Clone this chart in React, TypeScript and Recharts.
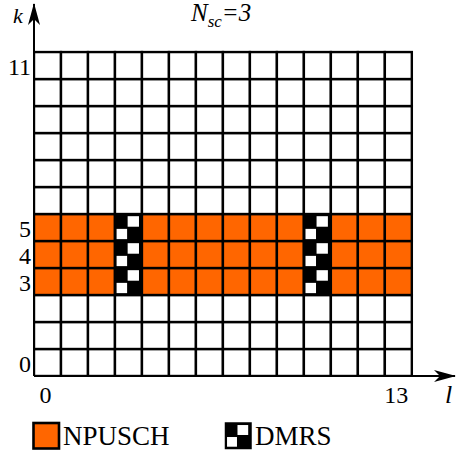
import React from 'react';
import { ComposedChart, XAxis, YAxis, Scatter } from 'recharts';

// grid: l = SC-FDMA symbol, k = subcarrier
const slots = [0, 1, 2, 3, 4, 5, 6, 7, 8, 9, 10, 11, 12, 13];
const subcarriers = [0, 1, 2, 3, 4, 5, 6, 7, 8, 9, 10, 11];
const npuschRows = [3, 4, 5];
const dmrsSlots = [3, 10];
const xTickLabels = [0, 13];
const yTickLabels = [0, 3, 4, 5, 11];
const legendItems = [
  { name: 'NPUSCH', kind: 'npusch' },
  { name: 'DMRS', kind: 'dmrs' },
];

const W = 456;
const H = 455;
const ORANGE = '#FF6600';
const FONT = '"Liberation Serif", "Times New Roman", serif';
const LINE_W = 2.4;

// plot runs a bit past the grid so the axis arrows stick out
const MARGIN = { top: 4, right: 1, left: 0, bottom: 0 };
const Y_AXIS_W = 34;
const X_MAX = 15.6;
const Y_MAX = 13.78;
// pixels per unit of the x scale = one cell
const CELL_PX = (W - MARGIN.right - Y_AXIS_W) / X_MAX;

type Kind = 'empty' | 'npusch' | 'dmrs';

const cells: { x: number; y: number; kind: Kind }[] = [];
subcarriers.forEach((k) => {
  slots.forEach((l) => {
    let kind: Kind = 'empty';
    if (npuschRows.includes(k)) kind = dmrsSlots.includes(l) ? 'dmrs' : 'npusch';
    cells.push({ x: l + 0.5, y: k + 0.5, kind });
  });
});

const DmrsGlyph = ({ x, y, width, height, strokeWidth = LINE_W }: any) => (
  <g>
    <rect x={x} y={y} width={width} height={height} fill="#000" stroke="#000" strokeWidth={strokeWidth} />
    <rect x={x + 0.47 * width} y={y + 0.08 * height} width={0.42 * width} height={0.39 * height} fill="#fff" />
    <rect x={x + 0.06 * width} y={y + 0.55 * height} width={0.39 * width} height={0.38 * height} fill="#fff" />
  </g>
);

const CellShape = (props: any) => {
  const { cx, cy, payload } = props;
  const s = CELL_PX;
  const x = cx - s / 2;
  const y = cy - s / 2;
  if (payload.kind === 'dmrs') return <DmrsGlyph x={x} y={y} width={s} height={s} />;
  return (
    <rect
      x={x}
      y={y}
      width={s}
      height={s}
      fill={payload.kind === 'npusch' ? ORANGE : '#fff'}
      stroke="#000"
      strokeWidth={LINE_W}
    />
  );
};

export default function App() {
  return (
    <div style={{ position: 'absolute', left: 0, top: 0, width: W, height: H, fontFamily: FONT }}>
      <svg width={0} height={0} style={{ position: 'absolute' }}>
        <defs>
          <marker
            id="arrow"
            viewBox="0 0 22 12"
            markerWidth={22}
            markerHeight={12}
            refX={21}
            refY={6}
            orient="auto-start-reverse"
            markerUnits="userSpaceOnUse"
          >
            <path d="M0,0 L22,6 L0,12 L6,6 Z" fill="#000" />
          </marker>
        </defs>
      </svg>
      <ComposedChart width={W} height={H} margin={MARGIN}>
        <XAxis
          type="number"
          dataKey="x"
          domain={[0, X_MAX]}
          allowDataOverflow
          ticks={xTickLabels.map((l) => l + 0.5)}
          interval={0}
          tickFormatter={(v: number) => String(Math.floor(v))}
          height={79}
          axisLine={{ stroke: '#000', strokeWidth: 2, markerEnd: 'url(#arrow)' }}
          tickLine={false}
          tickSize={0}
          tickMargin={10}
          tick={{ fill: '#000', fontSize: 24, fontFamily: FONT, dx: -2 }}
        />
        <YAxis
          type="number"
          dataKey="y"
          domain={[0, Y_MAX]}
          allowDataOverflow
          ticks={yTickLabels.map((k) => k + 0.5)}
          interval={0}
          tickFormatter={(v: number) => String(Math.floor(v))}
          width={Y_AXIS_W}
          axisLine={{ stroke: '#000', strokeWidth: 2, markerStart: 'url(#arrow)' }}
          tickLine={false}
          tickSize={0}
          tickMargin={3}
          tick={{ fill: '#000', fontSize: 24, fontFamily: FONT, dy: 1 }}
        />
        <Scatter data={cells} shape={CellShape} isAnimationActive={false} />
      </ComposedChart>
      <svg width={W} height={H} style={{ position: 'absolute', left: 0, top: 0, pointerEvents: 'none' }}>
        <text x={13} y={23} fontSize={22} fontStyle="italic" fontFamily={FONT}>k</text>
        <text x={445} y={403} fontSize={26} fontStyle="italic" fontFamily={FONT}>l</text>
        <text x={191} y={21} fontSize={25} fontStyle="italic" fontFamily={FONT}>
          N<tspan fontSize={17} dy={6}>sc</tspan>
          <tspan dy={-6}>=3</tspan>
        </text>
        {legendItems.map((item, i) => {
          const x = i === 0 ? 33.5 : 225.5;
          const y = 423;
          return (
            <g key={item.name}>
              {item.kind === 'npusch' ? (
                <rect x={x} y={y} width={25.5} height={25.5} fill={ORANGE} stroke="#000" strokeWidth={2.6} />
              ) : (
                <DmrsGlyph x={x} y={y} width={25.5} height={25.5} strokeWidth={1.5} />
              )}
              <text x={x + 29.5} y={445} fontSize={27} fontFamily={FONT}>{item.name}</text>
            </g>
          );
        })}
      </svg>
    </div>
  );
}
